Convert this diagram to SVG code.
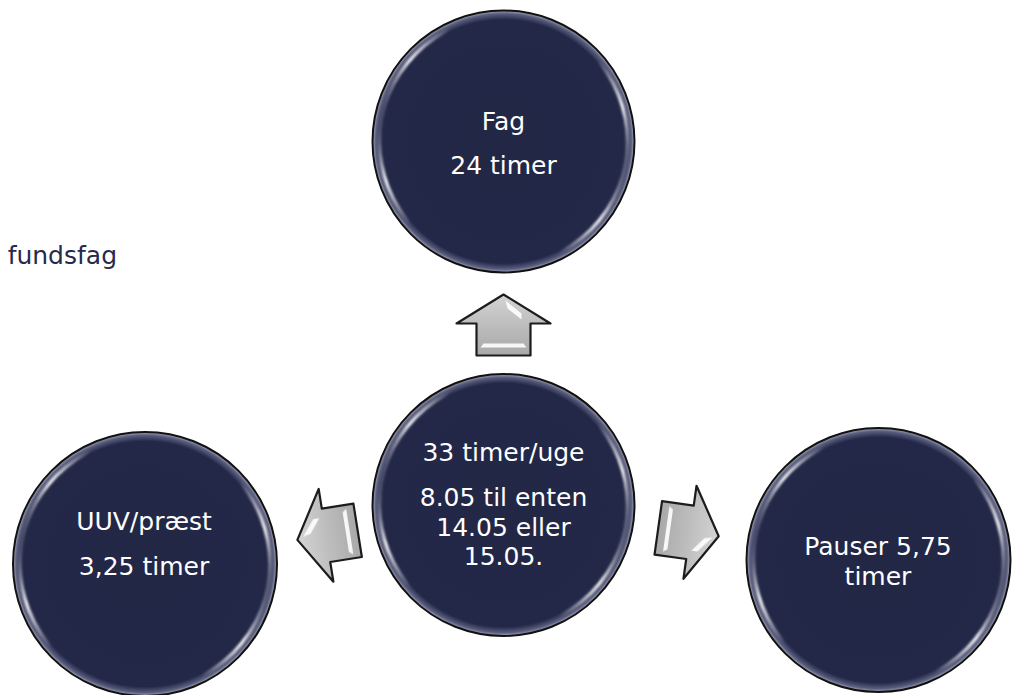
<svg xmlns="http://www.w3.org/2000/svg" width="1017" height="695" viewBox="0 0 1017 695">
<style>
.t{font-family:"DejaVu Sans",Verdana,sans-serif;font-size:25px;fill:#ffffff;text-anchor:middle}
.side{font-family:"DejaVu Sans",Verdana,sans-serif;font-size:25px;fill:#262a4e}
.body{fill:url(#cfill);stroke:#111111;stroke-width:2}
.shine{fill:none;stroke:url(#shine);stroke-width:3.5;filter:url(#blur)}
.arr{fill:url(#agrad);stroke:#1c1c1c;stroke-width:2.2;stroke-linejoin:round}
.hl{fill:#ffffff;opacity:0.9;filter:url(#blur2)}
</style>
<defs>
<radialGradient id="cfill" cx="0.5" cy="0.5" r="0.5">
<stop offset="0" stop-color="#232746"/>
<stop offset="0.93" stop-color="#242848"/>
<stop offset="0.975" stop-color="#5a5e7e"/>
<stop offset="1" stop-color="#a7a9ba"/>
</radialGradient>
<linearGradient id="shine" x1="0" y1="0.42" x2="1" y2="0.62">
<stop offset="0" stop-color="#ffffff" stop-opacity="0"/>
<stop offset="0.07" stop-color="#ffffff" stop-opacity="0.9"/>
<stop offset="0.2" stop-color="#ffffff" stop-opacity="0"/>
<stop offset="0.8" stop-color="#ffffff" stop-opacity="0"/>
<stop offset="0.93" stop-color="#ffffff" stop-opacity="0.9"/>
<stop offset="1" stop-color="#ffffff" stop-opacity="0"/>
</linearGradient>
<linearGradient id="agrad" x1="0" y1="0" x2="0" y2="1">
<stop offset="0" stop-color="#d4d4d4"/>
<stop offset="0.5" stop-color="#bdbdbd"/>
<stop offset="1" stop-color="#a9a9a9"/>
</linearGradient>
<filter id="blur" x="-20%" y="-20%" width="140%" height="140%"><feGaussianBlur stdDeviation="1.3"/></filter>
<filter id="blur2" x="-30%" y="-30%" width="160%" height="160%"><feGaussianBlur stdDeviation="0.6"/></filter>
<g id="arrowShape">
<polygon class="arr" points="0,-31 47,-2 27,-2 27,30 -27,30 -27,-2 -47,-2"/>
<polygon class="hl" points="2,-25 18,-12 18,-6 4,-17"/>
<polygon class="hl" points="-20,18 20,18 23,22 -23,22"/>
</g>
</defs>
<rect x="0" y="0" width="1017" height="695" fill="#ffffff"/>

<text class="side" x="117" y="264" text-anchor="end">fundsfag</text>

<g id="connectors">
<use href="#arrowShape" transform="translate(503.5,325.5)"/>
<use href="#arrowShape" transform="translate(328,535) rotate(-99)"/>
<use href="#arrowShape" transform="translate(688,532) rotate(98)"/>
</g>

<g id="node-top">
<circle class="body" cx="503.5" cy="141.5" r="131"/>
<circle class="shine" cx="503.5" cy="141.5" r="124"/>
<text class="t" x="503.5" y="130">Fag</text>
<text class="t" x="503.5" y="174">24 timer</text>
</g>

<g id="node-center">
<circle class="body" cx="503.5" cy="505" r="131"/>
<circle class="shine" cx="503.5" cy="505" r="124"/>
<text class="t" x="503.5" y="461">33 timer/uge</text>
<text class="t" x="503.5" y="506">8.05 til enten</text>
<text class="t" x="503.5" y="536">14.05 eller</text>
<text class="t" x="503.5" y="565">15.05.</text>
</g>

<g id="node-left">
<circle class="body" cx="145" cy="564" r="132"/>
<circle class="shine" cx="145" cy="564" r="125"/>
<text class="t" x="144" y="530">UUV/præst</text>
<text class="t" x="144" y="575">3,25 timer</text>
</g>

<g id="node-right">
<circle class="body" cx="878.5" cy="560" r="132"/>
<circle class="shine" cx="878.5" cy="560" r="125"/>
<text class="t" x="878" y="555">Pauser 5,75</text>
<text class="t" x="878" y="585">timer</text>
</g>
</svg>
